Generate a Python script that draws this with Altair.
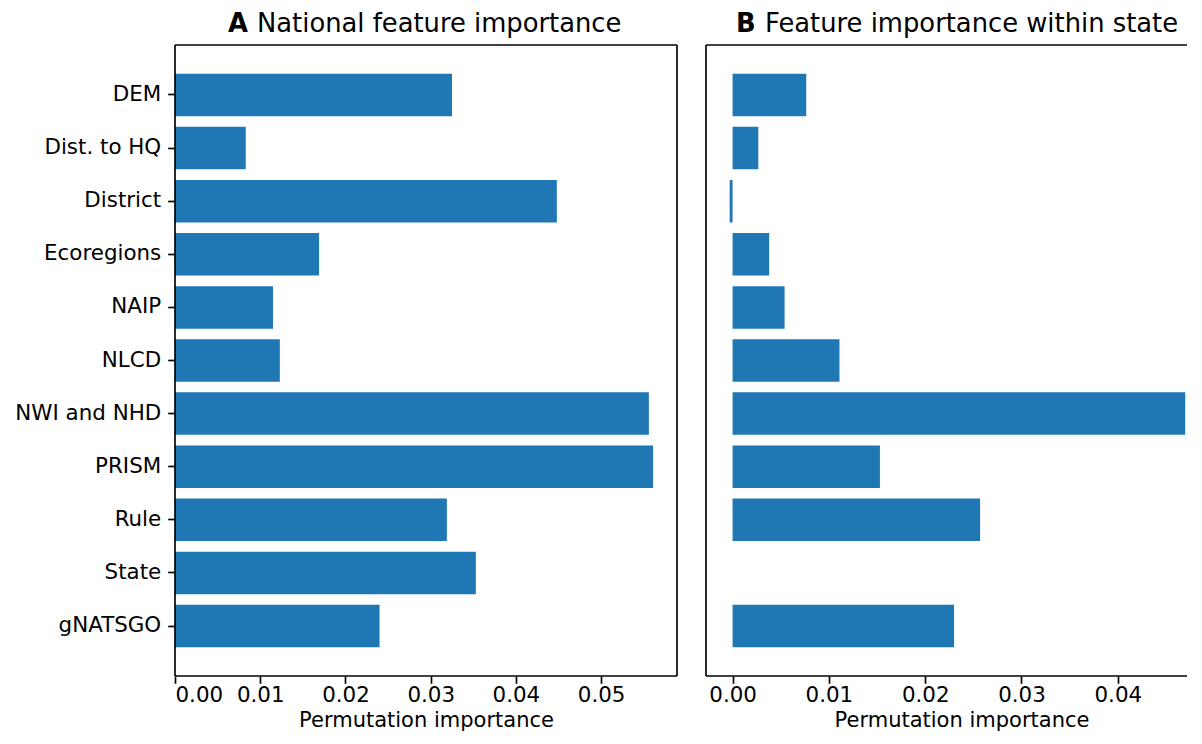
import altair as alt
import pandas as pd

features = ["DEM", "Dist. to HQ", "District", "Ecoregions", "NAIP", "NLCD",
            "NWI and NHD", "PRISM", "Rule", "State", "gNATSGO"]
national = [0.0325, 0.0083, 0.0448, 0.0169, 0.0115, 0.0123, 0.0556, 0.0561, 0.0319, 0.0353, 0.0240]
within_state = [0.00765, 0.00267, -0.0003, 0.0038, 0.0054, 0.0111, 0.0470, 0.0153, 0.0257, 0.0, 0.0230]
national_ticks = [0.0, 0.01, 0.02, 0.03, 0.04, 0.05]
state_ticks = [0.0, 0.01, 0.02, 0.03, 0.04]

df = pd.DataFrame({"feature": features, "national": national, "state": within_state})
one = pd.DataFrame({"k": [0]})

FONT = "DejaVu Sans"
BLUE = "#1f77b4"
H = 631
W1 = 502
W2 = 511
LW = 1.67
FS = 21.4
TFS = 25.8

y_scale = alt.Scale(domain=features, paddingInner=0.2, paddingOuter=0.54)


def frame(w, sides):
    base = alt.Chart(one).mark_rule(color="black", strokeWidth=LW)
    layers = []
    if "top" in sides:
        layers.append(base.encode(x=alt.value(0), x2=alt.value(w), y=alt.value(0)))
    if "bottom" in sides:
        layers.append(base.encode(x=alt.value(0), x2=alt.value(w), y=alt.value(H)))
    if "left" in sides:
        layers.append(base.encode(x=alt.value(0), y=alt.value(0), y2=alt.value(H)))
    if "right" in sides:
        layers.append(base.encode(x=alt.value(w), y=alt.value(0), y2=alt.value(H)))
    return layers


def title(letter, lx, text, tx):
    a = alt.Chart(one).mark_text(align="left", baseline="alphabetic", font=FONT, fontSize=TFS,
                                 fontWeight="bold", color="black").encode(
        x=alt.value(lx), y=alt.value(-13), text=alt.value(letter))
    b = alt.Chart(one).mark_text(align="left", baseline="alphabetic", font=FONT, fontSize=TFS,
                                 color="black").encode(
        x=alt.value(tx), y=alt.value(-13), text=alt.value(text))
    return [a, b]


left_bars = alt.Chart(df).mark_bar(color=BLUE).encode(
    y=alt.Y("feature:N", scale=y_scale,
            axis=alt.Axis(title=None, tickSize=7.3, labelPadding=7)),
    x=alt.X("national:Q", scale=alt.Scale(domain=[0, 0.0589], nice=False, zero=False),
            axis=alt.Axis(values=national_ticks, format=".2f", title="Permutation importance")),
)

right_bars = alt.Chart(df).mark_bar(color=BLUE).encode(
    y=alt.Y("feature:N", scale=y_scale, axis=None),
    x=alt.X("state:Q", scale=alt.Scale(domain=[-0.00276, 0.0503], nice=False, zero=False),
            axis=alt.Axis(values=state_ticks, format=".2f", title="Permutation importance")),
)

left = alt.layer(left_bars, *frame(W1, ["top", "bottom", "left", "right"]),
                 *title("A", 53, "National feature importance", 82)).properties(width=W1, height=H)
right = alt.layer(right_bars, *frame(W2, ["top", "bottom", "left", "right"]),
                  *title("B", 30, "Feature importance within state", 59)).properties(width=W2, height=H)

chart = alt.hconcat(left, right, spacing=25).properties(
    padding={"left": 6, "top": 2, "right": -32, "bottom": 0}
).configure_view(stroke="transparent").configure_axis(
    labelFont=FONT, titleFont=FONT, labelFontSize=FS, titleFontSize=21,
    labelColor="black", titleColor="black", titleFontWeight="normal",
    tickColor="black", tickWidth=LW, tickSize=7.3, labelPadding=1, titlePadding=4,
    domain=False, grid=False,
)

chart.save("out.html", embed_options={"renderer": "svg", "actions": False})
